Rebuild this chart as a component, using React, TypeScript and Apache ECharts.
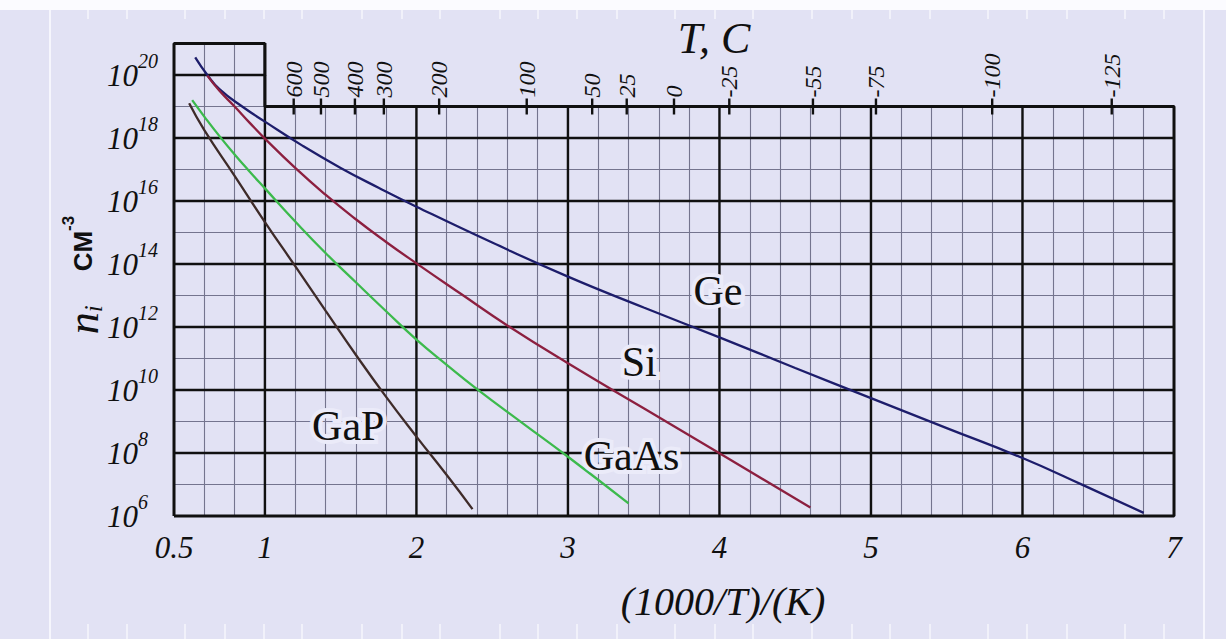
import React, { useEffect, useRef } from 'react';
import * as echarts from 'echarts';

// ---- axes (x: 1000/T in 1/K, y: log10 of n_i in cm^-3) ----
const X_MIN = 0.4;
const X_MAX = 7;
const X_STEP = 0.2;
const X_BREAK = 1; // the frame steps down to the temperature scale here
const Y_MIN = 6;
const Y_MAX = 21;
const TOP_EXP = 19; // level of the temperature scale

const xTickValues = [0.4, 1, 2, 3, 4, 5, 6, 7];
const xTickLabels = ['0.5', '1', '2', '3', '4', '5', '6', '7'];
const majorX = [1, 2, 3, 4, 5, 6];
const majorExp = [8, 10, 12, 14, 16, 18, 20];

// ---- intrinsic carrier concentration curves ----
const geX = [0.54, 0.62, 0.7, 0.85, 1.0, 1.25, 1.5, 1.75, 2.0, 2.5, 3.0, 3.5, 4.0, 4.5, 5.0, 5.5, 6.0, 6.4, 6.8];
const geExp = [20.56, 20.0, 19.55, 19.0, 18.52, 17.75, 17.05, 16.42, 15.82, 14.68, 13.6, 12.62, 11.67, 10.7, 9.74, 8.79, 7.84, 6.98, 6.1];

const siX = [0.62, 0.7, 0.8, 0.9, 1.0, 1.2, 1.4, 1.6, 1.8, 2.0, 2.3, 2.6, 3.0, 3.5, 4.0, 4.6];
const siExp = [19.98, 19.5, 19.0, 18.48, 17.98, 17.05, 16.2, 15.42, 14.7, 14.02, 13.03, 12.05, 10.85, 9.42, 7.99, 6.27];

const gaAsX = [0.52, 0.6, 0.7, 0.8, 0.9, 1.0, 1.2, 1.4, 1.6, 1.8, 2.0, 2.2, 2.4, 2.7, 3.0, 3.4];
const gaAsExp = [19.2, 18.68, 18.06, 17.48, 16.93, 16.4, 15.35, 14.35, 13.42, 12.5, 11.6, 10.8, 10.03, 8.95, 7.88, 6.4];

const gaPX = [0.5, 0.6, 0.8, 1.0, 1.2, 1.4, 1.6, 1.8, 2.0, 2.2, 2.37];
const gaPExp = [19.1, 18.25, 16.8, 15.33, 13.93, 12.52, 11.12, 9.78, 8.52, 7.3, 6.22];

// ---- curve name labels (placed in data coordinates) ----
const curveNames = ['Ge', 'Si', 'GaAs', 'GaP'];
const curveLabelX = [3.99, 3.47, 3.42, 1.55];
const curveLabelExp = [13.14, 10.89, 7.9, 8.86];

// ---- temperature scale along the top (°C) ----
const tempTickX = [1.19, 1.37, 1.594, 1.785, 2.15, 2.728, 3.16, 3.388, 3.7, 4.065, 4.617, 5.033, 5.8, 6.589];
const tempTickLabels = ['600', '500', '400', '300', '200', '100', '50', '25', '0', '-25', '-55', '-75', '-100', '-125'];

// ---- background ruler marks ----
const rulerMarks = [88, 127, 185, 225, 264, 302, 362, 402, 440, 500, 538, 577, 617, 675, 715, 753, 812, 852, 890, 930, 988, 1027, 1067, 1125, 1164];

const SERIF = '"Liberation Serif", "Times New Roman", serif';
const SANS = '"Liberation Sans", Arial, sans-serif';
const INK = '#101010';
const MINOR = '#74748e';
const BG = '#e2e2f4';
const HALO = '#ebebf9';

const COLORS = { ge: '#1d1d6b', si: '#8c1f3f', gaAs: '#3cba4c', gaP: '#3e2b29' };

const pairs = (xs: number[], ys: number[]) => xs.map((x, i) => [x, ys[i]]);
const isEven = (v: number) => Math.round(v) % 2 === 0;

export default function App() {
  const ref = useRef<HTMLDivElement>(null);

  useEffect(() => {
    if (!ref.current) return;
    const chart = echarts.init(ref.current, null, { renderer: 'svg' });

    // bold grid lines: verticals stop at the temperature scale right of X_BREAK
    const majorSegments: number[][] = [
      ...majorX.map((x) => [x, Y_MIN, x, x <= X_BREAK ? Y_MAX : TOP_EXP]),
      ...majorExp.map((e) => [X_MIN, e, e > TOP_EXP ? X_BREAK : X_MAX, e]),
    ];

    const framePath = [
      [X_MIN, Y_MIN],
      [X_MIN, Y_MAX],
      [X_BREAK, Y_MAX],
      [X_BREAK, TOP_EXP],
      [X_MAX, TOP_EXP],
      [X_MAX, Y_MIN],
      [X_MIN, Y_MIN],
    ];

    const curve = (name: string, xs: number[], ys: number[], color: string) => ({
      type: 'line',
      name,
      data: pairs(xs, ys),
      smooth: 0.5,
      showSymbol: false,
      symbol: 'none',
      z: 4,
      lineStyle: { color, width: 2.3 },
      silent: true,
    });

    const graphic: any[] = [
      { type: 'rect', z: 0, shape: { x: 0, y: 0, width: 1226, height: 10 }, style: { fill: '#fbfbff' } },
      { type: 'line', z: 0, shape: { x1: 50, y1: 10, x2: 50, y2: 639 }, style: { stroke: '#f6f6fd', lineWidth: 2 } },
      { type: 'line', z: 0, shape: { x1: 1204, y1: 10, x2: 1204, y2: 639 }, style: { stroke: '#f6f6fd', lineWidth: 2 } },
      ...rulerMarks.map((x) => ({ type: 'line', z: 0, shape: { x1: x, y1: 10, x2: x, y2: 19 }, style: { stroke: '#f6f6fd', lineWidth: 1.5 } })),
      ...rulerMarks.map((x) => ({ type: 'line', z: 0, shape: { x1: x, y1: 624, x2: x, y2: 639 }, style: { stroke: '#f6f6fd', lineWidth: 1.5 } })),
      {
        type: 'text', x: 714, y: 38, z: 100,
        style: { text: 'T, C', fontFamily: SERIF, fontStyle: 'italic', fontSize: 44, fill: INK, align: 'center', verticalAlign: 'middle' },
      },
      {
        type: 'text', x: 723, y: 601, z: 100,
        style: { text: '(1000/T)/(K)', fontFamily: SERIF, fontStyle: 'italic', fontSize: 40, fill: INK, align: 'center', verticalAlign: 'middle' },
      },
      {
        type: 'text', x: 83, y: 275, z: 100, rotation: Math.PI / 2,
        style: {
          text: '{n|n}{i|i}{g|}{c|CM}{p|-3}',
          align: 'center', verticalAlign: 'middle',
          rich: {
            n: { fontFamily: SERIF, fontStyle: 'italic', fontSize: 44, fill: INK, lineHeight: 46, verticalAlign: 'middle' },
            i: { fontFamily: SERIF, fontStyle: 'italic', fontSize: 25, fill: INK, verticalAlign: 'bottom' },
            g: { width: 34 },
            c: { fontFamily: SANS, fontWeight: 'bold', fontSize: 26, fill: INK },
            p: { fontFamily: SANS, fontWeight: 'bold', fontSize: 17, fill: INK, verticalAlign: 'top' },
          },
        },
      },
    ];

    const hiddenAxisParts = { axisLine: { show: false }, axisTick: { show: false } };
    const labelFont = { fontFamily: SERIF, fontStyle: 'italic', color: INK, showMinLabel: true, showMaxLabel: true };

    chart.setOption({
      animation: false,
      backgroundColor: BG,
      grid: { left: 174, right: 52, top: 43.5, bottom: 123, containLabel: false },
      xAxis: {
        type: 'value',
        min: X_MIN,
        max: X_MAX,
        interval: X_STEP,
        ...hiddenAxisParts,
        splitLine: { show: true, lineStyle: { color: MINOR, width: 1.1 } },
        axisLabel: {
          ...labelFont,
          margin: 16,
          fontSize: 31,
          formatter: (v: number) => {
            const k = xTickValues.findIndex((t) => Math.abs(t - v) < 1e-6);
            return k >= 0 ? xTickLabels[k] : '';
          },
        },
      },
      yAxis: [
        // mantissa "10" of each power of ten
        {
          type: 'value',
          min: Y_MIN,
          max: Y_MAX,
          interval: 1,
          ...hiddenAxisParts,
          splitLine: { show: true, lineStyle: { color: MINOR, width: 1.1 } },
          axisLabel: {
            ...labelFont,
            margin: 36,
            fontSize: 31,
            formatter: (v: number) => (isEven(v) ? '10' : ''),
          },
        },
        // exponent, raised beside the mantissa
        {
          type: 'value',
          position: 'left',
          min: Y_MIN,
          max: Y_MAX,
          interval: 1,
          ...hiddenAxisParts,
          splitLine: { show: false },
          axisLabel: {
            ...labelFont,
            margin: 36,
            align: 'left',
            verticalAlign: 'bottom',
            padding: [0, 0, 4, 0],
            fontSize: 20,
            formatter: (v: number) => (isEven(v) ? String(Math.round(v)) : ''),
          },
        },
      ],
      graphic,
      series: [
        // blank band above the temperature scale
        {
          type: 'custom',
          z: 1,
          silent: true,
          data: [[X_BREAK, TOP_EXP, X_MAX, Y_MAX]],
          encode: { x: [0, 2], y: [1, 3] },
          renderItem: (_p: any, api: any) => {
            const a = api.coord([api.value(0), api.value(1)]);
            const b = api.coord([api.value(2), api.value(3)]);
            return {
              type: 'rect',
              shape: { x: a[0] + 1.5, y: b[1] - 2, width: b[0] - a[0] + 2, height: a[1] - b[1] + 1 },
              style: { fill: BG },
            };
          },
        },
        // bold grid lines
        {
          type: 'custom',
          z: 3,
          silent: true,
          data: majorSegments,
          encode: { x: [0, 2], y: [1, 3] },
          renderItem: (_p: any, api: any) => {
            const a = api.coord([api.value(0), api.value(1)]);
            const b = api.coord([api.value(2), api.value(3)]);
            return { type: 'line', shape: { x1: a[0], y1: a[1], x2: b[0], y2: b[1] }, style: { stroke: INK, lineWidth: 2.4 } };
          },
        },
        curve('Ge', geX, geExp, COLORS.ge),
        curve('Si', siX, siExp, COLORS.si),
        curve('GaAs', gaAsX, gaAsExp, COLORS.gaAs),
        curve('GaP', gaPX, gaPExp, COLORS.gaP),
        // outer frame
        {
          type: 'line',
          data: framePath,
          clip: false,
          showSymbol: false,
          symbol: 'none',
          z: 5,
          silent: true,
          lineStyle: { color: INK, width: 3 },
        },
        // temperature scale ticks and labels
        {
          type: 'custom',
          z: 6,
          silent: true,
          data: tempTickX.map((x, i) => [x, TOP_EXP, i]),
          renderItem: (_p: any, api: any) => {
            const p = api.coord([api.value(0), api.value(1)]);
            const idx = api.value(2) as number;
            return {
              type: 'group',
              children: [
                { type: 'line', shape: { x1: p[0], y1: p[1] - 8, x2: p[0], y2: p[1] + 8 }, style: { stroke: INK, lineWidth: 2.4 } },
                {
                  type: 'text',
                  x: p[0],
                  y: p[1] - 9,
                  rotation: Math.PI / 2,
                  style: {
                    text: tempTickLabels[idx],
                    fontFamily: SERIF,
                    fontStyle: 'italic',
                    fontSize: 24,
                    fill: INK,
                    align: 'left',
                    verticalAlign: 'middle',
                  },
                },
              ],
            };
          },
        },
        // curve names: a soft halo underneath, then the text
        {
          type: 'custom',
          z: 7,
          silent: true,
          data: curveLabelX.map((x, i) => [x, curveLabelExp[i], i]),
          renderItem: (_p: any, api: any) => {
            const p = api.coord([api.value(0), api.value(1)]);
            const name = curveNames[api.value(2) as number];
            const base = { fontFamily: SERIF, fontSize: 42, align: 'center', verticalAlign: 'middle', text: name };
            return {
              type: 'group',
              children: [
                { type: 'text', x: p[0], y: p[1], style: { ...base, fill: HALO, stroke: HALO, lineWidth: 8 } },
                { type: 'text', x: p[0], y: p[1], style: { ...base, fill: INK } },
              ],
            };
          },
        },
      ],
    });

    return () => chart.dispose();
  }, []);

  return <div ref={ref} style={{ position: 'absolute', left: 0, top: 0, width: 1226, height: 639 }} />;
}
